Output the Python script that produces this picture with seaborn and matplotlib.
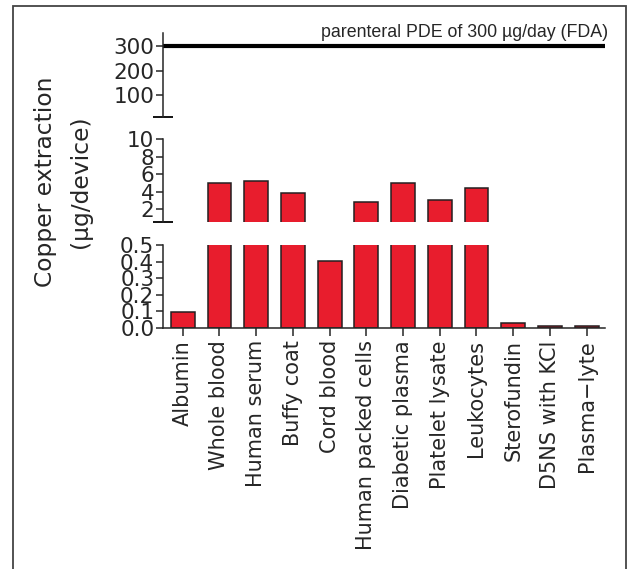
import seaborn as sns
import matplotlib.pyplot as plt
import matplotlib.patches as mpatches
import pandas as pd
import numpy as np

categories = ["Albumin", "Whole blood", "Human serum", "Buffy coat", "Cord blood",
              "Human packed cells", "Diabetic plasma", "Platelet lysate", "Leukocytes",
              "Sterofundin", "D5NS with KCl", "Plasma\u2212lyte"]
copper = [0.093, 5.03, 5.26, 3.85, 0.405, 2.86, 5.03, 3.05, 4.39, 0.027, 0.012, 0.010]
pde_limit = 300

top_ticks = [100, 200, 300]
mid_ticks = [2, 4, 6, 8, 10]
low_ticks = [0.0, 0.1, 0.2, 0.3, 0.4, 0.5]

sns.set_style("ticks")
plt.rcParams["font.family"] = ["DejaVu Sans"]

df = pd.DataFrame({"sample": categories, "cu": copper})

fig = plt.figure(figsize=(6.29, 5.69), dpi=100)
left, width = 0.2596, 0.7022
ax_top = fig.add_axes([left, 0.7949, width, 0.1471])
ax_mid = fig.add_axes([left, 0.6093, width, 0.1459])
ax_low = fig.add_axes([left, 0.4241, width, 0.1453])

red = "#E81D2D"
for ax in [ax_top, ax_mid, ax_low]:
    sns.barplot(df, x="sample", y="cu", ax=ax, color=red, edgecolor="#231F20",
                linewidth=1.1, width=0.65, saturation=1)
    ax.set_xlim(-0.53, 11.5)
    ax.set_xlabel("")
    ax.set_ylabel("")
    for s in ["top", "right"]:
        ax.spines[s].set_visible(False)
    ax.spines["left"].set_linewidth(1.1)
    ax.spines["bottom"].set_linewidth(1.1)
    ax.tick_params(axis="y", length=5, width=1.1, pad=1.5, labelsize=15.5)
    ax.set_facecolor("none")

ax_top.set_ylim(10, 355)
ax_top.set_yticks(top_ticks)
ax_mid.set_ylim(0.5, 10)
ax_mid.set_yticks(mid_ticks)
ax_low.set_ylim(0, 0.5)
ax_low.set_yticks(low_ticks)
ax_low.set_yticklabels([f"{t:.1f}" for t in low_ticks])

for ax in [ax_top, ax_mid]:
    ax.spines["bottom"].set_visible(False)
    ax.tick_params(axis="x", bottom=False, labelbottom=False)
    # break cap at the bottom of the spine
    ax.plot([0], [0], marker="_", markersize=14, markeredgewidth=1.3, color="black",
            transform=ax.transAxes, clip_on=False)

ax_low.tick_params(axis="x", length=6, width=1.1, pad=3, labelsize=15, rotation=90)

ax_top.axhline(pde_limit, color="black", lw=3)
ax_top.text(1.007, pde_limit + 22, "parenteral PDE of 300 \u00b5g/day (FDA)",
            transform=ax_top.get_yaxis_transform(), ha="right", va="bottom",
            fontsize=12.8, family=["Liberation Sans", "DejaVu Sans"])

fig.text(0.1, 0.68, "Copper extraction\n(\u00b5g/device)", rotation=90,
         ha="center", va="center", fontsize=16.8, linespacing=1.7)

fig.patches.append(mpatches.Rectangle((13 / 629, -0.1), 613 / 629, 1.1 - 6 / 569,
                                      transform=fig.transFigure, fill=False,
                                      edgecolor="#444444", lw=1.3))

plt.savefig("out.png", dpi=100)
